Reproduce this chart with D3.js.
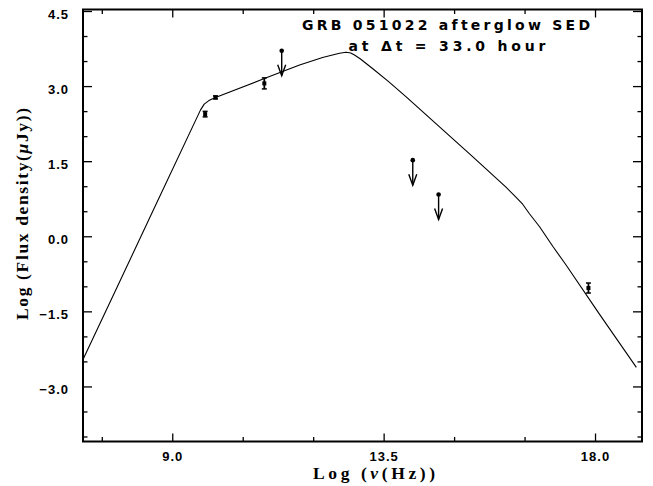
<!DOCTYPE html>
<html>
<head>
<meta charset="utf-8">
<script src="https://cdn.jsdelivr.net/npm/d3@7"></script>
<style>
  html, body { margin: 0; padding: 0; background: #fff; }
  svg { display: block; }
</style>
</head>
<body>
<svg id="chart" width="653" height="486"></svg>
<script>
// ---- data ----
const modelNu   = [7.10, 7.81, 8.66, 9.60, 9.68, 9.78, 9.92, 10.96, 11.71, 12.20, 12.56, 12.70, 12.80, 12.88, 13.00, 13.27, 13.60, 13.98, 14.69, 15.40, 16.11, 16.30, 16.46, 16.60, 16.82, 17.10, 17.38, 18.09, 18.88];
const modelFlux = [-2.46, -1.05, 0.65, 2.52, 2.64, 2.71, 2.77, 3.15, 3.42, 3.57, 3.655, 3.675, 3.66, 3.62, 3.546, 3.347, 3.093, 2.786, 2.186, 1.586, 0.975, 0.796, 0.64, 0.455, 0.19, -0.20, -0.57, -1.55, -2.62];

const detNu   = [9.70, 9.92, 10.96, 17.86];
const detFlux = [2.44, 2.774, 3.054, -1.034];
const detErr  = [0.055, 0.03, 0.11, 0.10];

const ulNu   = [11.33, 14.12, 14.67];
const ulFlux = [3.706, 1.52, 0.834];

const xMajorTicks = [9.0, 13.5, 18.0];
const xMinorTicks = [7.5, 10.5, 12.0, 15.0, 16.5];
const yMajorTicks = [4.5, 3.0, 1.5, 0.0, -1.5, -3.0];
const yMinorTicks = [4.0, 3.5, 2.5, 2.0, 1.0, 0.5, -0.5, -1.0, -2.0, -2.5, -3.5, -4.0];

const titleLine1 = "GRB 051022 afterglow SED";
const titleLine2 = "at \u0394t = 33.0 hour";
const xTitleParts = [["Log (", false], ["\u03bd", true], ["(Hz))", false]];
const yTitleParts = [["Log (Flux density(", false], ["\u03bc", true], ["Jy))", false]];

// ---- layout ----
const svg = d3.select("#chart");
const L = 83, R = 642, T = 9.5, B = 441.5;

const x = d3.scaleLinear().domain([7.1, 19.0]).range([L, R]);
const y = d3.scaleLinear().domain([-4.1, 4.53]).range([B, T]);

const tickFont = "'Liberation Sans', Arial, sans-serif";
const titleFont = "'DejaVu Sans', 'Liberation Sans', sans-serif";
const serifFont = "'Liberation Serif', 'Times New Roman', serif";

function styleAxis(g) {
  g.select(".domain").remove();
  g.selectAll(".tick line").attr("stroke", "#000").attr("stroke-width", 1.3);
  g.selectAll(".tick text")
    .attr("fill", "#000")
    .style("font-family", tickFont)
    .style("font-weight", "bold")
    .style("font-size", "13px")
    .style("letter-spacing", "1px");
}

// bottom
svg.append("g").attr("transform", `translate(0,${B})`)
  .call(d3.axisBottom(x).tickValues(xMajorTicks).tickSize(-8).tickPadding(10).tickFormat(d3.format(".1f")))
  .call(styleAxis);
svg.append("g").attr("transform", `translate(0,${B})`)
  .call(d3.axisBottom(x).tickValues(xMinorTicks).tickSize(-4.5).tickFormat(""))
  .call(styleAxis);
// top
svg.append("g").attr("transform", `translate(0,${T})`)
  .call(d3.axisTop(x).tickValues(xMajorTicks).tickSize(-8).tickFormat(""))
  .call(styleAxis);
svg.append("g").attr("transform", `translate(0,${T})`)
  .call(d3.axisTop(x).tickValues(xMinorTicks).tickSize(-4.5).tickFormat(""))
  .call(styleAxis);
// left
svg.append("g").attr("transform", `translate(${L},0)`)
  .call(d3.axisLeft(y).tickValues(yMajorTicks).tickSize(-9).tickPadding(14).tickFormat(d3.format(".1f")))
  .call(styleAxis)
  .call(g => g.selectAll(".tick text").attr("dy", "0.55em"));
svg.append("g").attr("transform", `translate(${L},0)`)
  .call(d3.axisLeft(y).tickValues(yMinorTicks).tickSize(-4.5).tickFormat(""))
  .call(styleAxis);
// right
svg.append("g").attr("transform", `translate(${R},0)`)
  .call(d3.axisRight(y).tickValues(yMajorTicks).tickSize(-9).tickFormat(""))
  .call(styleAxis);
svg.append("g").attr("transform", `translate(${R},0)`)
  .call(d3.axisRight(y).tickValues(yMinorTicks).tickSize(-4.5).tickFormat(""))
  .call(styleAxis);

// frame
svg.append("rect")
  .attr("x", L).attr("y", T).attr("width", R - L).attr("height", B - T)
  .attr("fill", "none").attr("stroke", "#000").attr("stroke-width", 2);

// model curve
const model = modelNu.map((v, i) => [v, modelFlux[i]]);
svg.append("path")
  .datum(model)
  .attr("fill", "none")
  .attr("stroke", "#000")
  .attr("stroke-width", 1.1)
  .attr("stroke-linejoin", "round")
  .attr("d", d3.line().x(d => x(d[0])).y(d => y(d[1])).curve(d3.curveLinear));

// detections with error bars
const det = detNu.map((v, i) => ({ nu: v, f: detFlux[i], e: detErr[i] }));
const dg = svg.append("g").selectAll("g").data(det).join("g");
dg.append("line")
  .attr("x1", d => x(d.nu)).attr("x2", d => x(d.nu))
  .attr("y1", d => y(d.f - d.e)).attr("y2", d => y(d.f + d.e))
  .attr("stroke", "#000").attr("stroke-width", 1.8);
dg.append("line")
  .attr("x1", d => x(d.nu) - 2.5).attr("x2", d => x(d.nu) + 2.5)
  .attr("y1", d => y(d.f - d.e)).attr("y2", d => y(d.f - d.e))
  .attr("stroke", "#000").attr("stroke-width", 1.5);
dg.append("line")
  .attr("x1", d => x(d.nu) - 2.5).attr("x2", d => x(d.nu) + 2.5)
  .attr("y1", d => y(d.f + d.e)).attr("y2", d => y(d.f + d.e))
  .attr("stroke", "#000").attr("stroke-width", 1.5);
dg.append("rect")
  .attr("x", d => x(d.nu) - 2).attr("y", d => y(d.f) - 2)
  .attr("width", 4).attr("height", 4).attr("fill", "#000");

// upper limits (dot + downward arrow)
const ul = ulNu.map((v, i) => ({ nu: v, f: ulFlux[i] }));
const arrowLen = 25;
const ug = svg.append("g").selectAll("g").data(ul).join("g");
ug.append("circle")
  .attr("cx", d => x(d.nu)).attr("cy", d => y(d.f)).attr("r", 2.3).attr("fill", "#000");
ug.append("line")
  .attr("x1", d => x(d.nu)).attr("x2", d => x(d.nu))
  .attr("y1", d => y(d.f)).attr("y2", d => y(d.f) + arrowLen)
  .attr("stroke", "#000").attr("stroke-width", 1.4);
ug.append("path")
  .attr("d", d => {
    const cx = x(d.nu), ty = y(d.f) + arrowLen;
    return `M${cx - 4},${ty - 11} L${cx},${ty} L${cx + 4},${ty - 11}`;
  })
  .attr("fill", "none").attr("stroke", "#000").attr("stroke-width", 1.4);

// titles
svg.append("text")
  .attr("x", 446).attr("y", 30).attr("text-anchor", "middle")
  .attr("textLength", 288).attr("lengthAdjust", "spacing")
  .style("font-family", titleFont).style("font-weight", "bold").style("font-size", "14px")
  .text(titleLine1);
svg.append("text")
  .attr("x", 447).attr("y", 51).attr("text-anchor", "middle")
  .attr("textLength", 197).attr("lengthAdjust", "spacing")
  .style("font-family", titleFont).style("font-weight", "bold").style("font-size", "14px")
  .text(titleLine2);

function addParts(sel, parts) {
  parts.forEach(([s, it]) => {
    sel.append("tspan").style("font-style", it ? "italic" : "normal").text(s);
  });
}

const xt = svg.append("text")
  .attr("x", 374).attr("y", 479).attr("text-anchor", "middle")
  .attr("textLength", 122).attr("lengthAdjust", "spacing")
  .style("font-family", serifFont).style("font-weight", "bold").style("font-size", "17.5px");
addParts(xt, xTitleParts);

const yt = svg.append("text")
  .attr("transform", "translate(28,214) rotate(-90)")
  .attr("text-anchor", "middle")
  .attr("textLength", 212).attr("lengthAdjust", "spacing")
  .style("font-family", serifFont).style("font-weight", "bold").style("font-size", "17.5px");
addParts(yt, yTitleParts);
</script>
</body>
</html>
